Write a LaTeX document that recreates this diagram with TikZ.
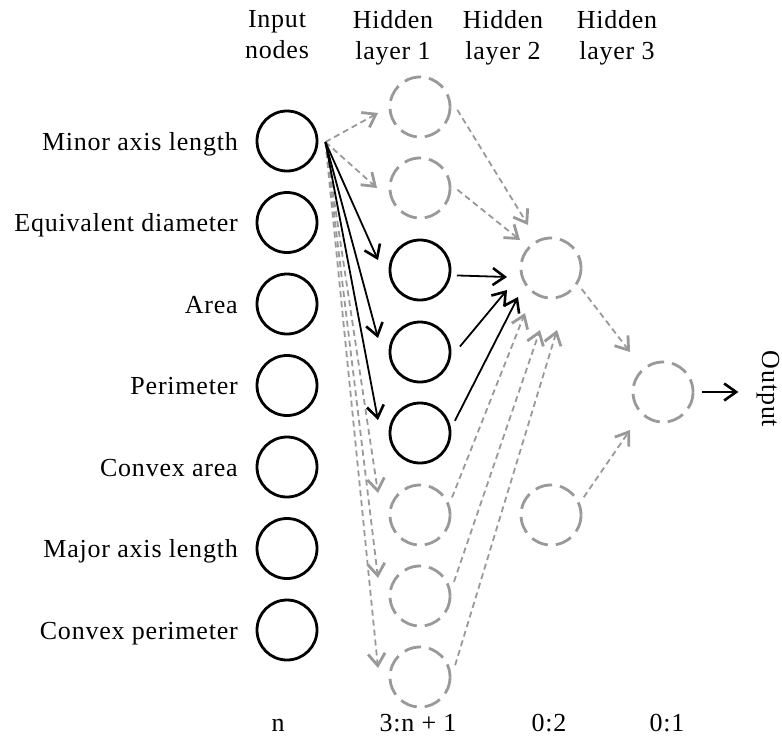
\documentclass[tikz,border=0pt]{standalone}
\usepackage{fontspec}
\setmainfont{Liberation Serif}[LetterSpace=3]
\usetikzlibrary{arrows.meta,calc}
\definecolor{dgray}{HTML}{999999}
\begin{document}
\begin{tikzpicture}[x=1pt,y=-1pt,
  font=\fontsize{26}{31}\selectfont,
  inode/.style={circle,draw=black,line width=2.8pt,minimum size=60pt,inner sep=0pt},
  hnode/.style={circle,draw=dgray,line width=2.8pt,minimum size=60pt,inner sep=0pt,dash pattern=on 17pt off 8pt,dash phase=4pt},
  solidarr/.style={draw=black,line width=1.8pt,-{Straight Barb[length=12pt,width=17pt,line width=2.6pt]}},
  dasharr/.style={draw=dgray,line width=1.8pt,dash pattern=on 6pt off 4pt,-{Straight Barb[length=12pt,width=17pt,line width=2.8pt]}},
  lab/.style={inner sep=0pt,anchor=base east},
  head/.style={align=center,inner sep=0pt,anchor=north},
  foot/.style={inner sep=0pt,anchor=base}]
\useasboundingbox (0,0) rectangle (782,740);
% input nodes
\foreach \i/\y in {1/141,2/222.5,3/304,4/385.5,5/467,6/548.5,7/630}
  \node[inode] (in\i) at (287,\y) {};
% hidden layer 1
\foreach \i/\y in {1/107,2/188,6/515,7/596,8/677}
  \node[hnode] (h1\i) at (420,\y) {};
\foreach \i/\y in {3/270,4/352,5/433}
  \node[inode] (h1\i) at (420,\y) {};
% hidden layer 2 and 3
\node[hnode] (h21) at (551,268) {};
\node[hnode] (h22) at (551,515) {};
\node[hnode] (h3) at (663,392) {};
% labels
\node[lab] (l1) at (238,150) {Minor axis length};
\node[lab] (l2) at (238,231.5) {Equivalent diameter};
\node[lab] (l3) at (238,313) {Area};
\node[lab] (l4) at (238,394.5) {Perimeter};
\node[lab] (l5) at (238,476) {Convex area};
\node[lab] (l6) at (238,557.5) {Major axis length};
\node[lab] (l7) at (238,639) {Convex perimeter};
\node[head] (t1) at (277,10) {Input\\nodes};
\node[head] (t2) at (393,10) {Hidden\\layer 1};
\node[head] (t3) at (503,10) {Hidden\\layer 2};
\node[head] (t4) at (617,10) {Hidden\\layer 3};
\node[foot] (b1) at (278,731) {n};
\node[foot] (b2) at (418,731) {3:n + 1};
\node[foot] (b3) at (549,731) {0:2};
\node[foot] (b4) at (667,731) {0:1};
\node[rotate=-90,inner sep=0pt,anchor=base] (out) at (762,389) {Output};
% start point on first input node
\coordinate (s) at ($(in1.east)+(7,1)$);
% tip coordinates near hidden layer 1
\foreach \i/\dx/\dy in {1/-42/6,2/-43/0,3/-42/-10,4/-42/-14,5/-42/-13,6/-42/-22,7/-42/-18,8/-42/-9}
  \coordinate (t1\i) at ($(h1\i)+(\dx,\dy)$);
% tip coordinates near hidden layer 2 node 1
\foreach \i/\dx/\dy in {1/-23/-43,2/-31/-28,3/-44/9,4/-44/22,5/-33/29,6/-26/45,7/-11/62,8/6/62}
  \coordinate (u\i) at ($(h21)+(\dx,\dy)$);
% input -> hidden 1
\foreach \i in {1,2,6,7,8} \draw[dasharr] (s) -- (t1\i);
\foreach \i in {3,4,5} \draw[solidarr] (s) -- (t1\i);
% hidden 1 -> hidden 2
\draw[dasharr] (h11.-5) ++(6,0) coordinate (a1) -- (u1);
\draw[dasharr] (h12.-3) ++(6,0) coordinate (a2) -- (u2);
\draw[solidarr] (h13.-10) ++(6,0) coordinate (a3) -- (u3);
\draw[solidarr] (h14.10) ++(9,0) coordinate (a4) -- (u4);
\draw[solidarr] (h15.23) ++(6,0) coordinate (a5) -- (u5);
\draw[dasharr] (h16.34) ++(6,0) coordinate (a6) -- (u6);
\draw[dasharr] (h17.27) ++(6,0) coordinate (a7) -- (u7);
\draw[dasharr] (h18.22) ++(6,0) coordinate (a8) -- (u8);
% hidden 2 -> hidden 3
\draw[dasharr] (h21.-35) ++(5,3) coordinate (c1) -- ($(h3)+(-33,-40)$) coordinate (d1);
\draw[dasharr] (h22.28) ++(5,-3) coordinate (c2) -- ($(h3)+(-33,38)$) coordinate (d2);
% output
\draw[solidarr] (h3.east) ++(8,0) coordinate (e1) -- ($(h3.east)+(44,0)$) coordinate (e2);
\end{tikzpicture}
\end{document}
